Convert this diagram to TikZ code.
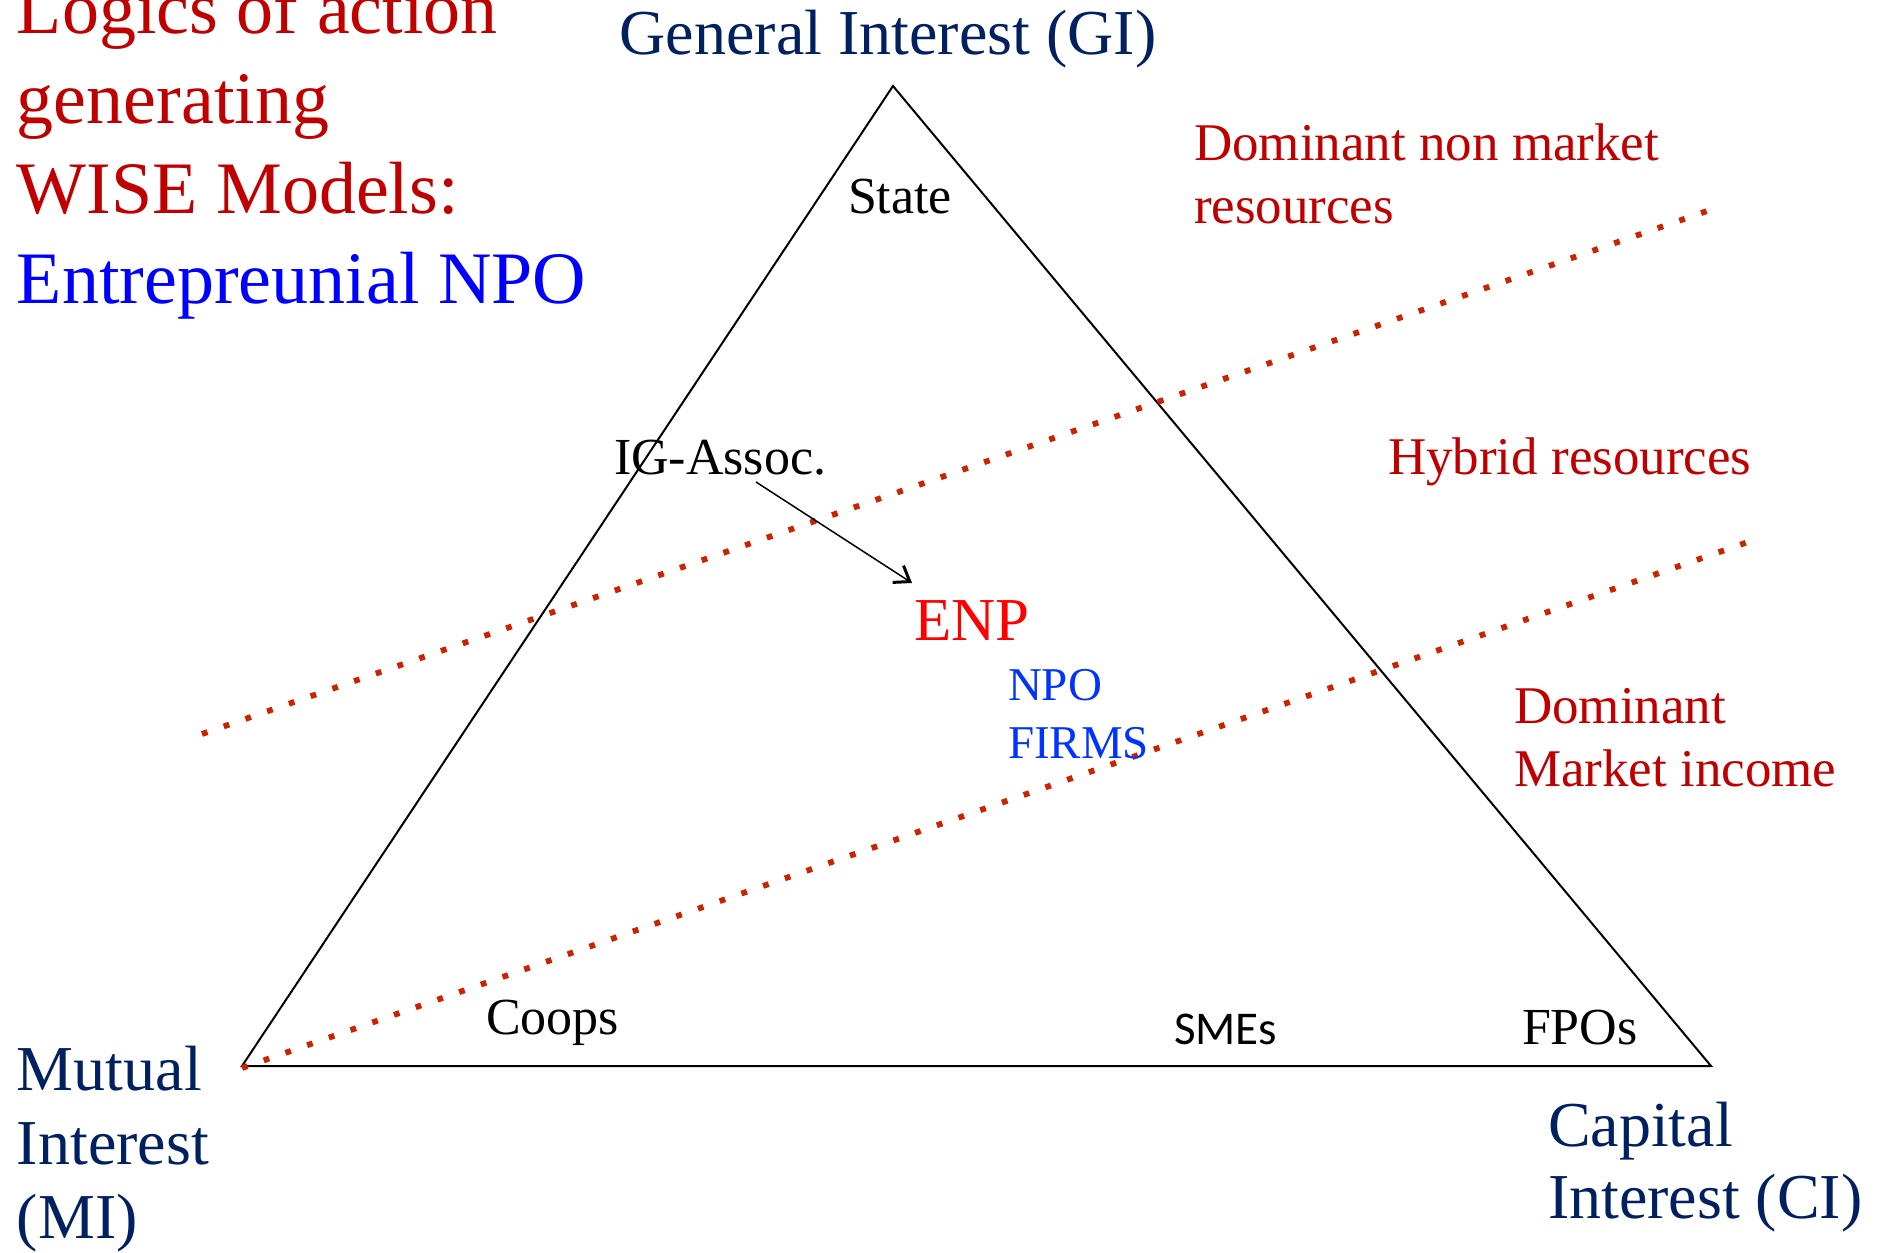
\documentclass[tikz,border=0pt]{standalone}
\usepackage{fontspec}
\setmainfont{Liberation Serif}
\newfontfamily\calib{Carlito}
\usetikzlibrary{arrows.meta}
\definecolor{navy}{HTML}{002060}
\definecolor{darkred}{HTML}{C00000}
\definecolor{dotred}{RGB}{204,34,0}
\definecolor{enpred}{HTML}{FF0000}
\definecolor{tblue}{HTML}{0000FF}
\definecolor{fblue}{RGB}{0,51,255}
\newcommand{\fs}[2]{\fontsize{#1}{#2}\selectfont}
\begin{document}
\begin{tikzpicture}[x=0.5pt,y=-0.5pt,
  txt/.style={inner sep=0pt, outer sep=0pt, anchor=base west, align=left},
  tri/.style={draw=black, line width=1pt, line join=miter},
  dotline/.style={draw=dotred, line width=2.9pt, dash pattern=on 2.9pt off 8.6pt},
  arr/.style={draw=black, line width=0.75pt, -{Straight Barb[length=7pt,width=10pt,line width=1.5pt]}}
]
\useasboundingbox (0,0) rectangle (1881,1253);

% corners
\coordinate (GIc) at (893,86);
\coordinate (MIc) at (242,1066);
\coordinate (CIc) at (1711,1066);
\draw[tri] (GIc) -- (MIc) -- (CIc) -- cycle;

% dotted boundaries
\coordinate (d1a) at (202,734);
\coordinate (d1b) at (1710,210);
\coordinate (d2a) at (242,1068);
\coordinate (d2b) at (1748,542);
\draw[dotline] (d1a) -- (d1b);
\draw[dotline] (d2a) -- (d2b);

% title (multi-line nodes are anchored at their last line's baseline)
\node[txt, text=darkred, font=\fs{37}{45}] (t1) at (17,213) {Logics of action\\generating\\WISE Models:};
\node[txt, text=tblue, font=\fs{37}{45}] (t2) at (17,303) {Entrepreunial NPO};

% corner labels
\node[txt, anchor=base, text=navy, font=\fs{32}{37}] (gi) at (888,54) {General Interest (GI)};
\node[txt, text=navy, font=\fs{32}{37}] (mi) at (17,1238) {Mutual\\Interest\\(MI)};
\node[txt, text=navy, font=\fs{32}{36}] (ci) at (1548,1218) {Capital\\Interest (CI)};

% resource labels
\node[txt, text=darkred, font=\fs{26.5}{31.5}] (r1) at (1194,223) {Dominant non market\\resources};
\node[txt, text=darkred, font=\fs{26.5}{31.5}] (r2) at (1388,474) {Hybrid resources};
\node[txt, text=darkred, font=\fs{26.5}{31.5}] (r3) at (1514,786) {Dominant\\Market income};

% inner labels
\node[txt, anchor=base, font=\fs{26}{31}] (state) at (900,213) {State};
\node[txt, font=\fs{26}{31}] (ig) at (614,474) {IG-Assoc.};
\node[txt, text=enpred, font=\fs{30.5}{36}] (enp) at (914,640) {ENP};
\node[txt, text=fblue, font=\fs{23.5}{29}] (npo) at (1008,758) {NPO\\FIRMS};
\node[txt, font=\fs{26}{31}] (coops) at (486,1034) {Coops};
\node[txt, font=\calib\fs{23.5}{28}] (smes) at (1174,1044) {SMEs};
\node[txt, font=\fs{26}{31}] (fpos) at (1522,1044) {FPOs};

% arrow
\coordinate (arrS) at (756,482);
\coordinate (arrE) at (912,583);
\draw[arr] (arrS) -- (arrE);
\end{tikzpicture}
\end{document}
